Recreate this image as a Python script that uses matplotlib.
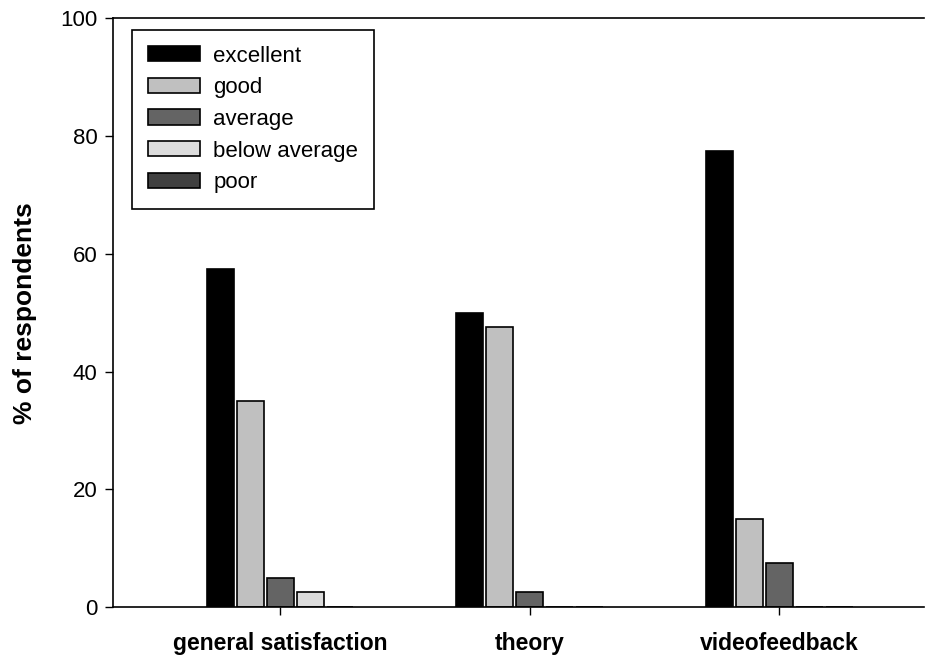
import numpy as np
import matplotlib.pyplot as plt

plt.rcParams['font.family'] = ['Liberation Sans', 'DejaVu Sans']

groups = ['general satisfaction', 'theory', 'videofeedback']
ratings = ['excellent', 'good', 'average', 'below average', 'poor']
excellent = [57.5, 50.0, 77.5]
good = [35.0, 47.5, 15.0]
average = [5.0, 2.5, 7.5]
below_average = [2.5, 0.0, 0.0]
poor = [0.0, 0.0, 0.0]
colors = ['#000000', '#c0c0c0', '#646464', '#dcdcdc', '#404040']

series = [excellent, good, average, below_average, poor]

fig = plt.figure(figsize=(9.25, 6.55), dpi=100)
ax = fig.add_axes([0.122, 0.073, 0.877, 0.899])

x = np.arange(len(groups))
slot = 0.12
width = 0.108
for i, (vals, name, col) in enumerate(zip(series, ratings, colors)):
    ax.bar(x + (i - 2) * slot, vals, width, color=col, edgecolor='black',
           linewidth=1.2, label=name)

ax.set_xlim(-0.67, 2.58)
ax.set_ylim(0, 100)
ax.set_xticks(x)
ax.set_xticklabels(groups, fontsize=16.5, fontweight='bold')
ax.set_yticks([0, 20, 40, 60, 80, 100])
ax.tick_params(axis='y', labelsize=16, direction='out', length=6, width=1, pad=5)
ax.tick_params(axis='x', direction='out', length=6, width=1, pad=12)
ax.set_ylabel('% of respondents', fontsize=19, fontweight='bold', labelpad=17)

ax.spines['right'].set_visible(False)
for s in ['left', 'bottom', 'top']:
    ax.spines[s].set_linewidth(1.2)

leg = ax.legend(loc='upper left', bbox_to_anchor=(0.0234, 0.981), fontsize=16,
                fancybox=False, framealpha=1, edgecolor='black',
                handlelength=2.35, handleheight=0.68, borderpad=0.72,
                labelspacing=0.48, handletextpad=0.6, borderaxespad=0)
leg.get_frame().set_linewidth(1.2)

fig.savefig('out.png', dpi=100)
